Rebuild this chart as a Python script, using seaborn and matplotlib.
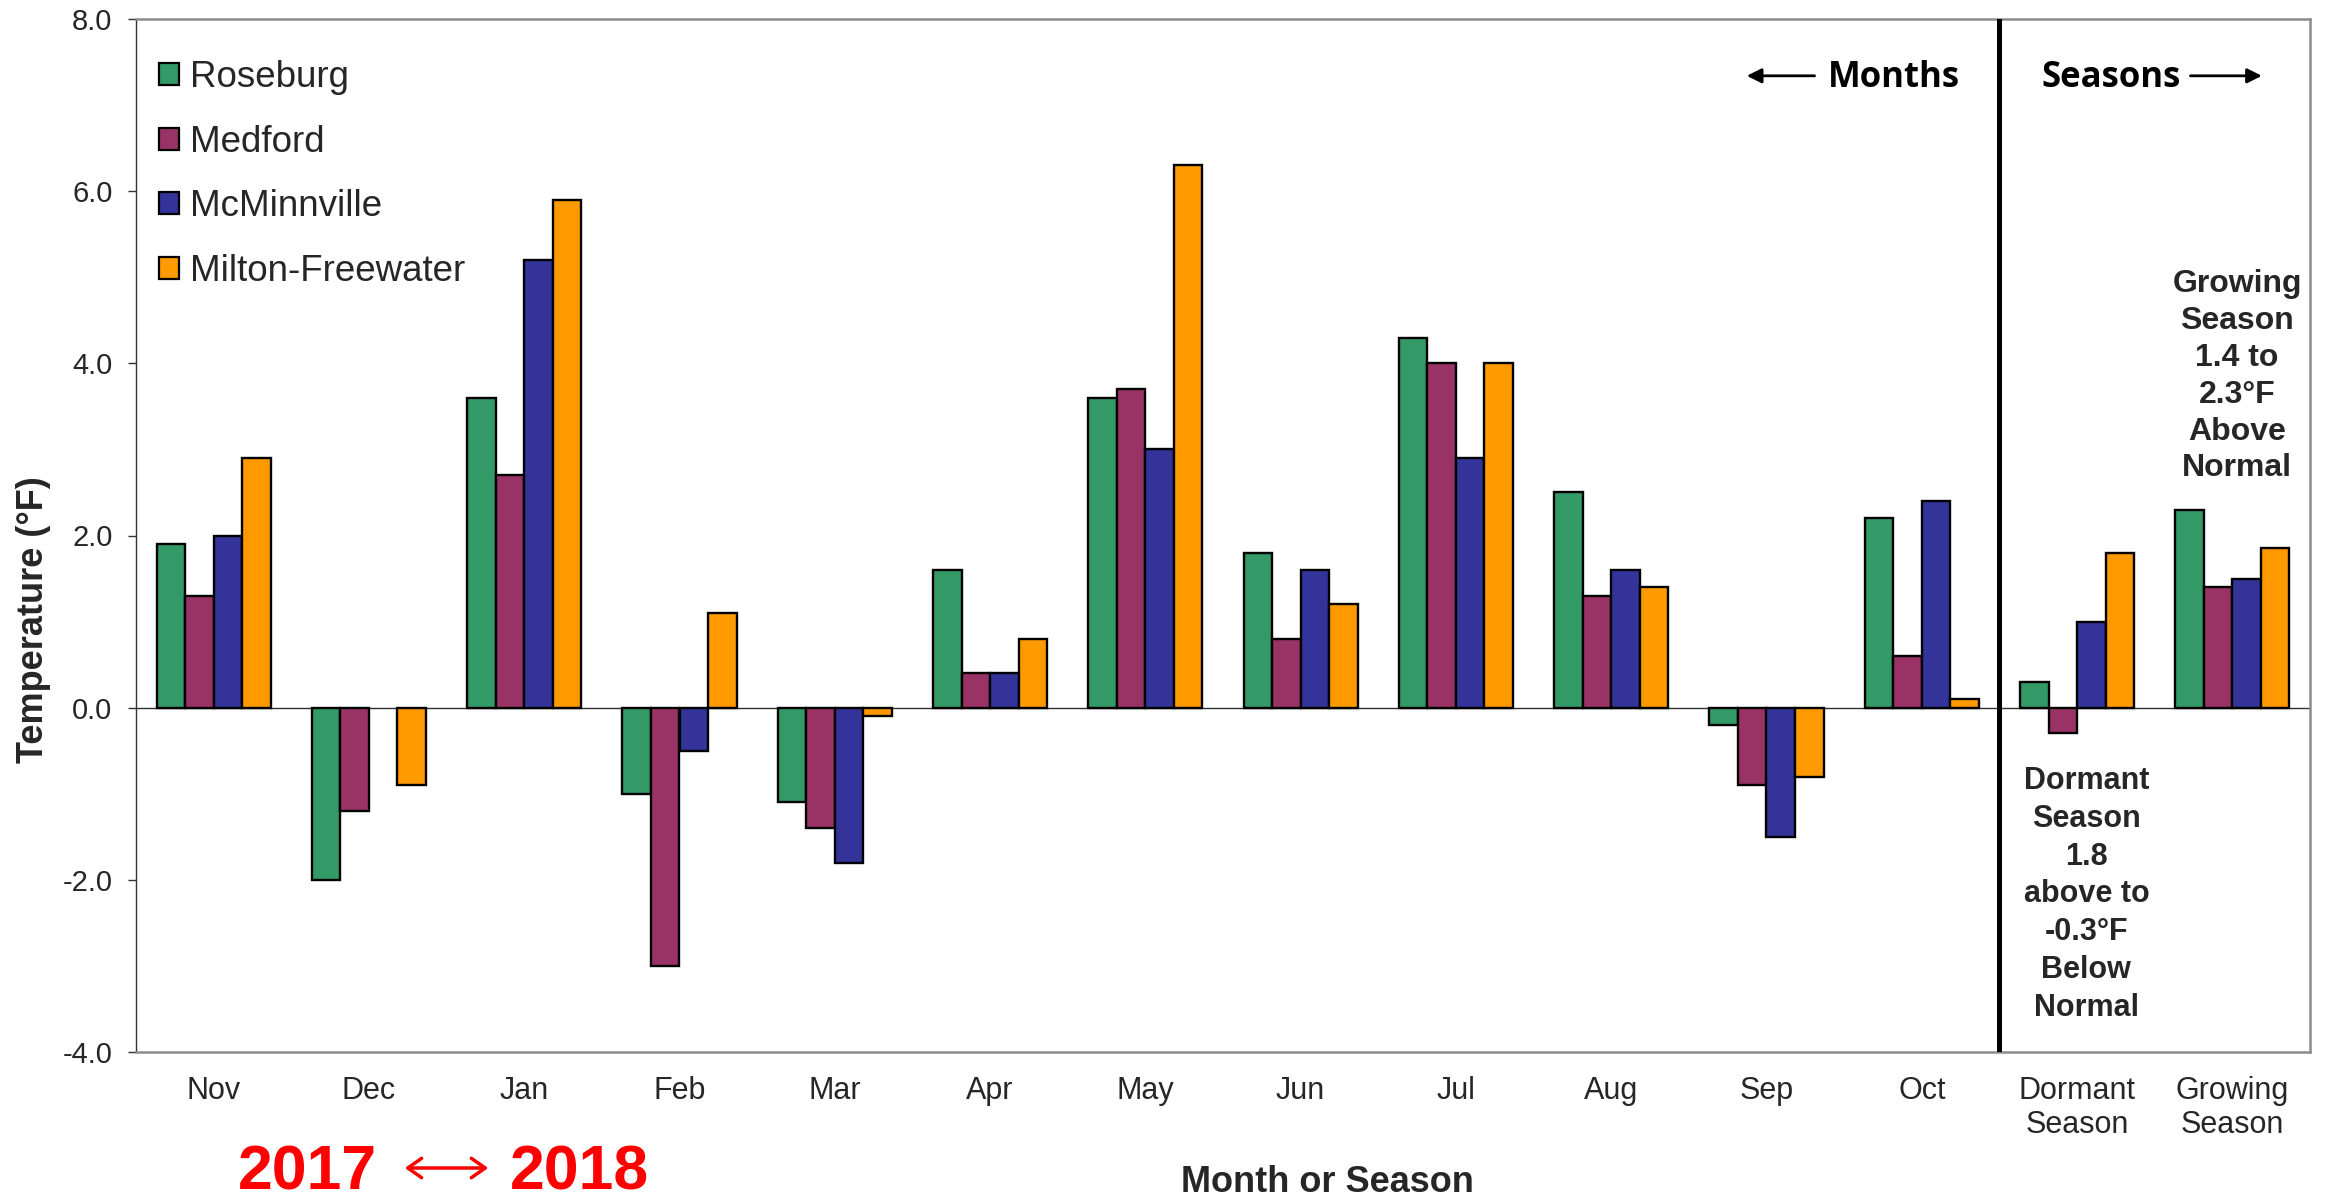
import numpy as np
import pandas as pd
import matplotlib
matplotlib.use("Agg")
import matplotlib.pyplot as plt
import seaborn as sns
from matplotlib.patches import Patch, FancyArrowPatch

# Temperature departures from normal (°F), Nov 2017 - Oct 2018, plus seasonal means
categories = ["Nov", "Dec", "Jan", "Feb", "Mar", "Apr", "May", "Jun", "Jul",
              "Aug", "Sep", "Oct", "Dormant\nSeason", "Growing\nSeason"]
stations = ["Roseburg", "Medford", "McMinnville", "Milton-Freewater"]

roseburg = [1.9, -2.0, 3.6, -1.0, -1.1, 1.6, 3.6, 1.8, 4.3, 2.5, -0.2, 2.2, 0.3, 2.3]
medford = [1.3, -1.2, 2.7, -3.0, -1.4, 0.4, 3.7, 0.8, 4.0, 1.3, -0.9, 0.6, -0.3, 1.4]
mcminnville = [2.0, np.nan, 5.2, -0.5, -1.8, 0.4, 3.0, 1.6, 2.9, 1.6, -1.5, 2.4, 1.0, 1.5]
milton_freewater = [2.9, -0.9, 5.9, 1.1, -0.1, 0.8, 6.3, 1.2, 4.0, 1.4, -0.8, 0.1, 1.8, 1.85]

station_colors = ["#339966", "#993366", "#333399", "#FF9900"]
y_ticks = [-4, -2, 0, 2, 4, 6, 8]

series = [roseburg, medford, mcminnville, milton_freewater]
df = pd.DataFrame({
    "Period": np.tile(categories, len(stations)),
    "Station": np.repeat(stations, len(categories)),
    "Departure": np.concatenate(series),
})

sns.set_style("white")
plt.rcParams["font.family"] = ["Liberation Sans", "DejaVu Sans"]
plt.rcParams["axes.unicode_minus"] = False

W, H = 2336, 1202
fig = plt.figure(figsize=(W / 100, H / 100), dpi=100)
left, right, top, bottom = 136, 2310, 19, 1052
ax = fig.add_axes([left / W, 1 - bottom / H, (right - left) / W, (bottom - top) / H])

sns.barplot(data=df, x="Period", y="Departure", hue="Station",
            order=categories, hue_order=stations, palette=station_colors,
            saturation=1, width=0.735, edgecolor="black", linewidth=1.7,
            errorbar=None, legend=False, ax=ax, zorder=3)

ax.set_xlim(-0.5, 13.5)
ax.set_ylim(-4, 8)
ax.set_xlabel("")
ax.set_ylabel("")

# zero line and months/seasons divider
ax.axhline(0, color="#303030", lw=1.0, zorder=2)
ax.axvline(11.5, color="black", lw=3.6, zorder=4)

# spines
for side in ["top", "right", "bottom"]:
    ax.spines[side].set_visible(True)
    ax.spines[side].set_color("#8C8C8C")
    ax.spines[side].set_linewidth(1.8)
ax.spines["left"].set_visible(True)
ax.spines["left"].set_color("#333333")
ax.spines["left"].set_linewidth(1.0)

ax.set_yticks(y_ticks)
ax.set_yticklabels([f"{v:.1f}" for v in y_ticks])
ax.tick_params(axis="y", left=True, length=6, width=1.0, color="#333333",
               direction="out", pad=11, labelsize=21)
ax.tick_params(axis="x", bottom=False, length=0, pad=17, labelsize=22)

# legend
handles = [Patch(facecolor=c, edgecolor="black", linewidth=1.6, label=s)
           for c, s in zip(station_colors, stations)]
ax.legend(handles=handles, loc="upper left", bbox_to_anchor=(0.0106, 0.96),
          frameon=False, fontsize=26.5, handlelength=0.54, handleheight=0.54,
          handletextpad=0.3, labelspacing=0.8, borderaxespad=0, borderpad=0)

# section headers
hdr = dict(fontsize=25, fontweight="bold", family=["Open Sans", "DejaVu Sans"],
           va="baseline", color="black")
ax.text(10.395, 7.21, "Months", ha="left", **hdr)
ax.text(11.77, 7.21, "Seasons", ha="left", **hdr)
arrow = dict(arrowstyle="-|>", color="black", lw=2.0, mutation_scale=22,
             shrinkA=0, shrinkB=0)
ax.annotate("", xy=(9.873, 7.34), xytext=(10.31, 7.34), arrowprops=arrow)
ax.annotate("", xy=(13.19, 7.34), xytext=(12.73, 7.34), arrowprops=arrow)

# seasonal summaries
ax.text(13.03, 3.85, "Growing\nSeason\n1.4 to\n2.3°F\nAbove\nNormal",
        ha="center", va="center", fontsize=23, fontweight="bold",
        linespacing=1.3)
ax.text(12.06, -2.17, "Dormant\nSeason\n1.8\nabove to\n-0.3°F\nBelow\nNormal",
        ha="center", va="center", fontsize=22, fontweight="bold",
        linespacing=1.34)

# axis titles
fig.text(34 / W, 1 - 620 / H, "Temperature (°F)", rotation=90, ha="center",
         va="center", fontsize=26, fontweight="bold")
fig.text(1327 / W, 1 - 1192 / H, "Month or Season", ha="center",
         va="baseline", fontsize=26, fontweight="bold")

# year span
fig.text(238 / W, 1 - 1189 / H, "2017", ha="left", va="baseline",
         fontsize=45, fontweight="bold", color="#FF0000")
fig.text(510 / W, 1 - 1189 / H, "2018", ha="left", va="baseline",
         fontsize=45, fontweight="bold", color="#FF0000")
fig.patches.append(FancyArrowPatch(
    (402 / W, 1 - 1168 / H), (491 / W, 1 - 1168 / H),
    transform=fig.transFigure, arrowstyle="<->,head_length=0.5,head_width=0.35",
    mutation_scale=20, color="#FF0000", lw=2.5))

fig.savefig("out.png", dpi=100)
